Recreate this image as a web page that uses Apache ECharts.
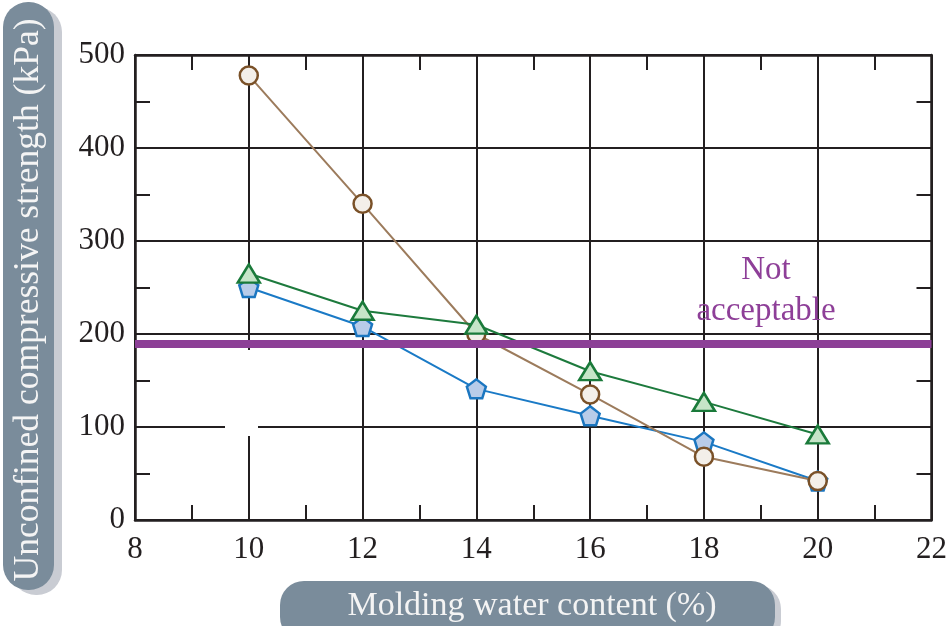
<!DOCTYPE html>
<html>
<head>
<meta charset="utf-8">
<script src="https://cdn.jsdelivr.net/npm/echarts@6/dist/echarts.min.js"></script>
<style>
  html, body { margin: 0; padding: 0; background: #fff; }
  #chart { width: 950px; height: 626px; }
</style>
</head>
<body>
<div id="chart"></div>
<script>
// Molding water content (%)
const waterContent = [10, 12, 14, 16, 18, 20];
// Unconfined compressive strength (kPa) for the three mixes
const strengthCircle = [478, 340, 200, 135, 68, 42];
const strengthTriangle = [265, 225, 210, 160, 127, 92];
const strengthPentagon = [250, 208, 141, 112, 84, 42];
// Acceptance limit
const limitStrength = 190;

const SERIF = '"Liberation Serif", "Times New Roman", serif';
const INK = '#231f20';
const PENTAGON = 'path://M0,-1 L0.951,-0.309 L0.588,0.809 L-0.588,0.809 L-0.951,-0.309 Z';

const pairs = ys => waterContent.map((x, i) => [x, ys[i]]);

const chart = echarts.init(document.getElementById('chart'), null, { renderer: 'canvas' });

const baseX = {
  type: 'value', min: 8, max: 22, interval: 2, z: 1,
  axisLine: { show: true, onZero: false, lineStyle: { color: INK, width: 2.5 } },
  axisTick: { show: true, inside: true, length: 15, lineStyle: { color: INK, width: 2 } },
  minorTick: { show: true, splitNumber: 2, length: 15, lineStyle: { color: INK, width: 2 } },
  splitLine: { show: false }
};
const baseY = {
  type: 'value', min: 0, max: 500, interval: 100, z: 1,
  axisLine: { show: true, onZero: false, lineStyle: { color: INK, width: 2.5 } },
  axisTick: { show: true, inside: true, length: 15, lineStyle: { color: INK, width: 2 } },
  minorTick: { show: true, splitNumber: 2, length: 15, lineStyle: { color: INK, width: 2 } },
  splitLine: { show: false }
};

chart.setOption({
  animation: false,
  backgroundColor: '#fff',
  grid: { left: 135, right: 13, top: 55, bottom: 106 },
  xAxis: [
    Object.assign({}, baseX, {
      position: 'bottom',
      axisLabel: { show: true, margin: 14, fontFamily: SERIF, fontSize: 31, color: INK },
      splitLine: { show: true, lineStyle: { color: INK, width: 2 } }
    }),
    Object.assign({}, baseX, { position: 'top', axisLabel: { show: false } })
  ],
  yAxis: [
    Object.assign({}, baseY, {
      position: 'left',
      axisLabel: { show: true, margin: 10, fontFamily: SERIF, fontSize: 31, color: INK },
      splitLine: { show: true, lineStyle: { color: INK, width: 2 } }
    }),
    Object.assign({}, baseY, { position: 'right', axisLabel: { show: false } })
  ],
  graphic: [
    // axis title pills
    { type: 'rect', z: -1, shape: { x: 11, y: 7, width: 51, height: 588, r: 25 }, style: { fill: '#c9ccd3' } },
    { type: 'rect', z: -1, shape: { x: 3, y: 2, width: 51, height: 588, r: 25 }, style: { fill: '#7a8c9b' } },
    {
      type: 'text', z: -1, x: 29, y: 300, rotation: Math.PI / 2,
      style: { text: 'Unconfined compressive strength (kPa)', fill: '#f4f4f4', font: '35.5px ' + SERIF,
               textAlign: 'center', textVerticalAlign: 'middle' }
    },
    { type: 'rect', z: -1, shape: { x: 286, y: 585, width: 495, height: 60, r: 24 }, style: { fill: '#c9ccd3' } },
    { type: 'rect', z: -1, shape: { x: 280, y: 581, width: 495, height: 60, r: 24 }, style: { fill: '#7a8c9b' } },
    {
      type: 'text', z: -1, x: 532, y: 606,
      style: { text: 'Molding water content (%)', fill: '#f4f4f4', font: '34px ' + SERIF,
               textAlign: 'center', textVerticalAlign: 'middle' }
    },
    // blank patch in the grid near (10, 100)
    { type: 'rect', z: 1.5, shape: { x: 225, y: 350, width: 33, height: 86 }, style: { fill: '#ffffff' } },
    // limit annotation
    {
      type: 'text', z: 3, x: 766, y: 291,
      style: { text: 'Not\nacceptable', fill: '#8e3f98', font: '33px ' + SERIF, lineHeight: 41,
               textAlign: 'center', textVerticalAlign: 'middle' }
    }
  ],
  series: [
    {
      type: 'line', z: 0.5, data: [], silent: true,
      markLine: {
        silent: true, symbol: 'none', label: { show: false },
        lineStyle: { color: '#8c3f96', width: 8, type: 'solid' },
        data: [{ yAxis: limitStrength }]
      }
    },
    {
      name: 'pentagon', type: 'line', z: 2, data: pairs(strengthPentagon),
      symbol: PENTAGON, symbolSize: 19,
      lineStyle: { color: '#1a7ac6', width: 2 },
      itemStyle: { color: '#b8cce9', borderColor: '#1b76c0', borderWidth: 2.5 }
    },
    {
      name: 'circle', type: 'line', z: 3, data: pairs(strengthCircle),
      symbol: 'circle', symbolSize: 18,
      lineStyle: { color: '#9c7b5c', width: 2 },
      itemStyle: { color: '#f3efe9', borderColor: '#7a5128', borderWidth: 2.5 }
    },
    {
      name: 'triangle', type: 'line', z: 4, data: pairs(strengthTriangle),
      symbol: 'triangle', symbolSize: [22, 18],
      lineStyle: { color: '#1d7a3d', width: 2 },
      itemStyle: { color: '#c6e5c8', borderColor: '#1a7a3a', borderWidth: 2.5 }
    }
  ]
});
</script>
</body>
</html>
